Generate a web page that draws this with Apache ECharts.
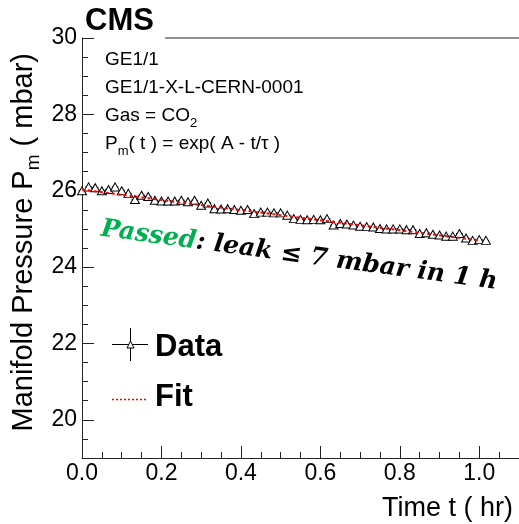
<!DOCTYPE html>
<html><head><meta charset="utf-8">
<script src="https://cdn.jsdelivr.net/npm/echarts@6/dist/echarts.min.js"></script>
<style>html,body{margin:0;padding:0;background:#fff}#c{width:519px;height:524px}</style>
</head><body><div id="c"></div>
<script>
// ---- data ----
const timeHr = [0, 0.0167, 0.0333, 0.05, 0.0667, 0.0833, 0.1, 0.1167, 0.1333, 0.15,
  0.1667, 0.1833, 0.2, 0.2167, 0.2333, 0.25, 0.2667, 0.2833, 0.3, 0.3167,
  0.3333, 0.35, 0.3667, 0.3833, 0.4, 0.4167, 0.4333, 0.45, 0.4667, 0.4833,
  0.5, 0.5167, 0.5333, 0.55, 0.5667, 0.5833, 0.6, 0.6167, 0.6333, 0.65,
  0.6667, 0.6833, 0.7, 0.7167, 0.7333, 0.75, 0.7667, 0.7833, 0.8, 0.8167,
  0.8333, 0.85, 0.8667, 0.8833, 0.9, 0.9167, 0.9333, 0.95, 0.9667, 0.9833,
  1.0, 1.0167];
const pressure = [26.00, 26.10, 26.08, 26.00, 26.03, 26.10, 26.00, 25.93, 25.77, 25.88,
  25.85, 25.75, 25.73, 25.73, 25.73, 25.75, 25.71, 25.75, 25.62, 25.68,
  25.53, 25.52, 25.53, 25.51, 25.49, 25.51, 25.40, 25.44, 25.44, 25.42,
  25.42, 25.36, 25.27, 25.25, 25.24, 25.25, 25.24, 25.27, 25.10, 25.14,
  25.13, 25.10, 25.07, 25.06, 25.05, 25.01, 25.00, 25.00, 25.00, 24.98,
  24.98, 24.88, 24.90, 24.86, 24.84, 24.81, 24.81, 24.88, 24.76, 24.70,
  24.72, 24.70];
const timeHalfBin = 0.0083;
const fitTime = [0, 0.25, 0.5, 0.75, 1.0];
const fitPressure = [26.03, 25.69, 25.36, 25.03, 24.70];
const yMajorTicks = [20, 22, 24, 26, 28, 30];
const infoLines = ['GE1/1', 'GE1/1-X-L-CERN-0001'];

const SANS = '"Liberation Sans", Arial, Helvetica, sans-serif';
const SERIF = '"DejaVu Serif", serif';
const AX = '#222';
const chart = echarts.init(document.getElementById('c'), null, {renderer: 'canvas'});

const option = {
  animation: false,
  backgroundColor: '#fff',
  grid: {left: 82, top: 38, width: 445, height: 420},
  xAxis: {
    type: 'value', min: 0, max: 1.1, interval: 0.2,
    axisLine: {lineStyle: {color: AX, width: 1}},
    axisTick: {inside: true, length: 12, lineStyle: {color: AX}},
    minorTick: {show: true, splitNumber: 4, length: 6, lineStyle: {color: AX}},
    splitLine: {show: false},
    axisLabel: {fontSize: 23, color: '#000', fontFamily: SANS, margin: 4,
      formatter: v => v.toFixed(1), showMaxLabel: false}
  },
  yAxis: [{
    type: 'value', min: 19, max: 30,
    axisLine: {show: true, lineStyle: {color: AX, width: 1}},
    axisTick: {inside: true, length: 12, customValues: yMajorTicks, lineStyle: {color: AX}},
    axisLabel: {customValues: yMajorTicks, fontSize: 23, color: '#000', fontFamily: SANS, margin: 5},
    splitLine: {show: false}
  }, {
    type: 'value', min: 19, max: 30, interval: 0.5, position: 'left', offset: 0,
    axisLine: {show: false},
    axisTick: {inside: true, length: 6, lineStyle: {color: AX}},
    axisLabel: {show: false},
    splitLine: {show: false}
  }],
  series: [{
    type: 'custom', name: 'xerr', yAxisIndex: 0, z: 2,
    data: timeHr.map((t, i) => [t, pressure[i]]),
    encode: {x: 0, y: 1},
    renderItem: (params, api) => {
      const t = api.value(0), p = api.value(1);
      const a = api.coord([t - timeHalfBin, p]);
      const b = api.coord([t + timeHalfBin, p]);
      return {type: 'line', shape: {x1: a[0], y1: a[1], x2: b[0], y2: b[1]},
        style: {stroke: '#000', lineWidth: 1}};
    }
  }, {
    type: 'scatter', name: 'Data', yAxisIndex: 0, z: 3,
    symbol: 'triangle', symbolSize: [9, 8],
    itemStyle: {color: '#fff', borderColor: '#000', borderWidth: 1, opacity: 1},
    data: timeHr.map((t, i) => [t, pressure[i]])
  }, {
    type: 'line', name: 'Fit', yAxisIndex: 0, z: 5,
    showSymbol: false, symbol: 'none',
    lineStyle: {color: '#ff0000', width: 2, type: [3, 3]},
    data: fitTime.map((t, i) => [t, fitPressure[i]])
  }],
  graphic: [
    {type: 'text', x: 85, y: 21, style: {text: 'CMS', fill: '#000',
      font: 'bold 31px ' + SANS, verticalAlign: 'middle', align: 'left'}},
    {type: 'line', shape: {x1: 165, y1: 38, x2: 519, y2: 38}, style: {stroke: AX, lineWidth: 1}},
    {type: 'text', x: 105, y: 60, style: {text: infoLines[0], fill: '#000',
      font: '19px ' + SANS, verticalAlign: 'middle'}},
    {type: 'text', x: 105, y: 88, style: {text: infoLines[1], fill: '#000',
      font: '19px ' + SANS, verticalAlign: 'middle'}},
    {type: 'text', x: 105, y: 116, style: {text: '{n|Gas = CO}{s|2}',
      verticalAlign: 'middle',
      rich: {n: {fontSize: 19, fontFamily: SANS, fill: '#000', lineHeight: 27, verticalAlign: 'middle'},
             s: {fontSize: 13, fontFamily: SANS, fill: '#000', lineHeight: 13, verticalAlign: 'bottom'}}}},
    {type: 'text', x: 105, y: 144, style: {text: '{n|P}{s|m}{n|( t ) = exp( A - t/τ )}',
      verticalAlign: 'middle',
      rich: {n: {fontSize: 19, fontFamily: SANS, fill: '#000', lineHeight: 27, verticalAlign: 'middle'},
             s: {fontSize: 13, fontFamily: SANS, fill: '#000', lineHeight: 13, verticalAlign: 'bottom'}}}},
    {type: 'text', x: 101, y: 229, rotation: -0.134, style: {
      text: '{g|Passed}{k|: leak ≤ 7 mbar in 1 h}', verticalAlign: 'middle', align: 'left',
      rich: {g: {fill: '#00b050', fontSize: 25, fontWeight: 'bold', fontStyle: 'italic', fontFamily: SERIF},
             k: {fill: '#000', fontSize: 25, fontWeight: 'bold', fontStyle: 'italic', fontFamily: SERIF}}}},
    // legend
    {type: 'line', shape: {x1: 112, y1: 344.5, x2: 148, y2: 344.5}, style: {stroke: '#000', lineWidth: 1}},
    {type: 'line', shape: {x1: 130.5, y1: 328, x2: 130.5, y2: 361}, style: {stroke: '#000', lineWidth: 1}},
    {type: 'polygon', shape: {points: [[130.5, 341], [127, 348], [134, 348]]}, style: {fill: '#fff', stroke: '#000', lineWidth: 1}},
    {type: 'text', x: 155, y: 347, style: {text: 'Data', fill: '#000', font: 'bold 31px ' + SANS, verticalAlign: 'middle'}},
    {type: 'line', shape: {x1: 112, y1: 399.5, x2: 148, y2: 399.5}, style: {stroke: '#ff0000', lineWidth: 1.5, lineDash: [2, 2]}},
    {type: 'text', x: 155, y: 397, style: {text: 'Fit', fill: '#000', font: 'bold 31px ' + SANS, verticalAlign: 'middle'}},
    // axis titles
    {type: 'text', x: 513, y: 509, style: {text: 'Time t ( hr)', fill: '#000', font: '27px ' + SANS,
      align: 'right', verticalAlign: 'middle'}},
    {type: 'text', x: 24, y: 53, rotation: Math.PI / 2, style: {
      text: '{n|Manifold Pressure P}{s|m}{n| ( mbar)}', align: 'right', verticalAlign: 'middle',
      rich: {n: {fontSize: 29, fontFamily: SANS, fill: '#000', lineHeight: 38, verticalAlign: 'middle'},
             s: {fontSize: 19, fontFamily: SANS, fill: '#000', lineHeight: 19, verticalAlign: 'bottom'}}}}
  ]
};
chart.setOption(option);
</script>
</body></html>
